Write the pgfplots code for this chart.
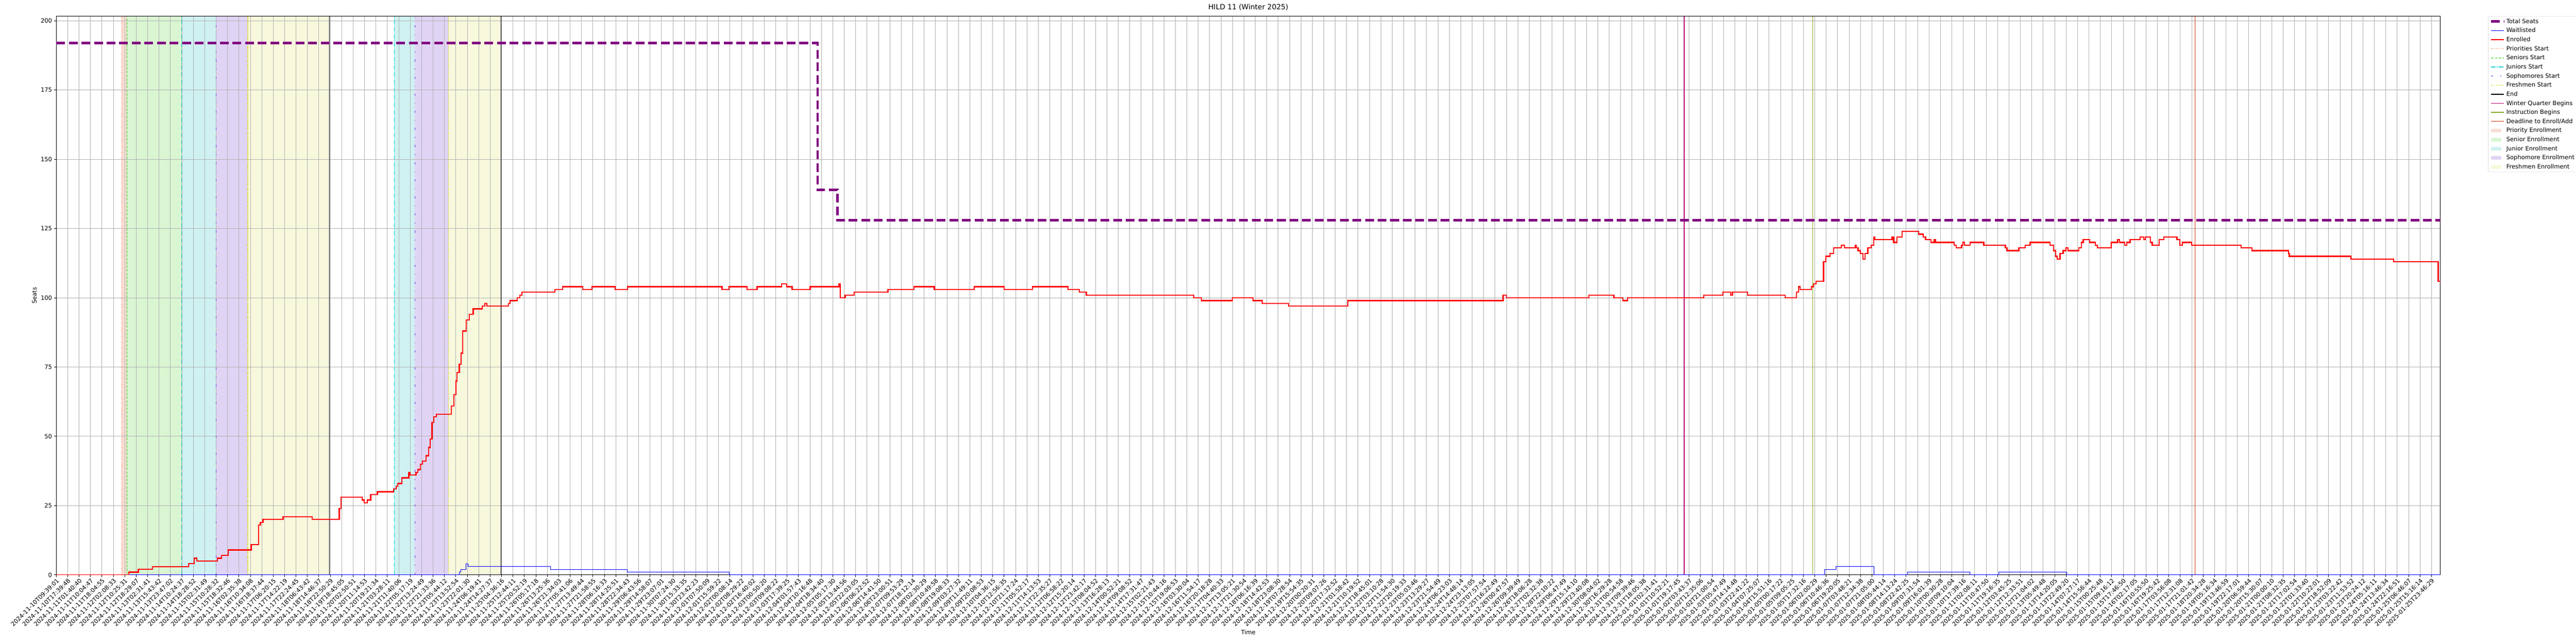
\documentclass[border=0pt]{standalone}
\usepackage{fontspec}
\setmainfont{DejaVu Sans}
\usepackage{pgfplots}
\pgfplotsset{compat=1.18}
\definecolor{gridc}{RGB}{176,176,176}
\definecolor{seatc}{RGB}{128,0,128}
\definecolor{prioc}{RGB}{238,112,60}
\definecolor{senc}{RGB}{60,200,20}
\definecolor{junc}{RGB}{0,206,209}
\definecolor{sophc}{RGB}{110,40,220}
\definecolor{freshc}{RGB}{222,222,40}
\definecolor{winc}{RGB}{185,15,120}
\definecolor{instc}{RGB}{130,170,20}
\definecolor{deadc}{RGB}{205,60,15}
\definecolor{priof}{RGB}{247,222,212}
\definecolor{senf}{RGB}{217,245,210}
\definecolor{junf}{RGB}{207,241,242}
\definecolor{sophf}{RGB}{224,212,245}
\definecolor{freshf}{RGB}{247,248,220}
\definecolor{legc}{RGB}{204,204,204}

\pgfplotstableread{
x y
0 0
6.35 1
7.19 2
8.42 3
11.6 4
12.08 6
12.3 5
14.12 6
14.46 7
15.05 9
17.07 11
17.72 18
17.88 19
18.11 20
19.87 21
22.4 20
24.7 20
24.78 24
24.93 28
26.78 27
26.97 26
27.24 27
27.54 29
28.12 30
29.54 31
29.77 32
29.92 33
30.27 35
30.88 37
30.96 36
31.5 37
31.65 38
31.9 40
32.07 41
32.38 43
32.6 46
32.76 49
32.91 55
33.07 57
33.3 58
34.6 61
34.83 65
35.0 70
35.1 73
35.29 76
35.45 80
35.6 88
35.9 92
36.17 94
36.52 96
37.29 97
37.52 98
37.71 97
39.59 98
39.74 99
40.36 100
40.59 101
40.78 102
43.65 103
44.34 104
46.11 103
46.91 104
48.95 103
50.02 104
58.3 103
58.92 104
60.49 103
61.38 104
63.52 105
63.98 104
64.44 103
66.02 104
68.55 105
68.66 100
69.09 101
69.89 102
72.84 103
75.11 104
76.9 103
80.4 104
83.0 103
85.5 104
88.6 103
89.6 102
90.2 101
99.6 100
100.3 99
103.0 100
104.8 99
105.6 98
107.9 97
113.1 99
126.7 101
127.0 100
134.2 101
136.4 100
137.2 99
137.6 100
144.28 101
145.96 102
146.61 101
146.78 102
148.12 101
151.4 100
152.39 102
152.57 104
152.7 103
153.69 104
153.9 105
154.12 106
154.77 113
154.98 115
155.33 116
155.63 118
156.32 119
156.58 118
157.53 119
157.62 118
157.79 117
158.0 116
158.22 114
158.39 116
158.65 118
158.95 119
159.17 122
159.26 121
160.77 122
160.9 120
161.2 122
161.63 124
163.1 123
163.49 122
163.7 121
164.18 120
164.47 121
164.56 120
166.2 119
166.38 118
166.85 119
166.98 120
167.1 119
167.59 120
168.8 119
170.69 118
170.82 117
171.86 118
172.42 119
172.85 120
174.58 119
174.92 117
175.09 115
175.22 114
175.48 116
175.74 117
176.0 118
176.17 117
177.12 118
177.34 120
177.51 121
178.07 120
178.55 119
178.76 118
179.97 120
180.53 121
180.7 120
181.14 119
181.31 120
181.61 121
182.48 122
182.8 121
182.93 122
183.38 120
183.55 119
184.16 121
184.55 122
185.71 121
185.97 119
186.19 120
187.0 119
191.32 118
192.27 117
195.47 116
195.55 115
200.95 114
204.7 113
208.59 106
208.78 106
}\enrolled

\pgfplotstableread{
x y
0 0
35.29 1
35.45 2
35.9 4
36.06 3
43.27 2
50.02 1
58.92 0
154.85 2
155.85 3
159.17 0
162.1 1
167.59 0
170.09 1
176.05 0
208.78 0
}\waitlisted

\pgfplotstableread{
x y
0 192
66.67 139
68.4 128
208.78 128
}\seats

\begin{document}
\begin{tikzpicture}
\begin{axis}[
  set layers,
  at={(0,0)}, anchor=south west,
  scale only axis, width=55.53in, height=13.01in,
  xmin=0, xmax=208.78, ymin=0, ymax=201.6,
  xtick={0,...,208},
  xticklabels={2024-11-10T09:39:01,2024-11-10T17:39:48,2024-11-11T01:40:40,2024-11-11T10:04:47,2024-11-11T18:04:55,2024-11-12T02:08:33,2024-11-12T10:25:31,2024-11-12T18:29:07,2024-11-13T02:31:41,2024-11-13T15:43:42,2024-11-13T23:47:02,2024-11-14T10:24:37,2024-11-14T18:28:52,2024-11-15T02:31:49,2024-11-15T10:28:32,2024-11-15T18:32:46,2024-11-16T02:35:38,2024-11-16T10:34:08,2024-11-16T18:37:44,2024-11-17T06:20:15,2024-11-17T14:22:19,2024-11-17T22:24:45,2024-11-18T06:43:42,2024-11-18T14:46:37,2024-11-18T22:50:29,2024-11-19T18:45:05,2024-11-20T02:50:51,2024-11-20T11:14:53,2024-11-20T19:21:34,2024-11-21T03:28:11,2024-11-21T11:40:06,2024-11-22T05:17:19,2024-11-22T13:24:49,2024-11-22T21:33:36,2024-11-23T05:44:12,2024-11-23T13:52:54,2024-11-23T22:01:30,2024-11-24T06:19:41,2024-11-24T14:27:37,2024-11-25T04:36:16,2024-11-25T12:44:11,2024-11-25T20:52:19,2024-11-26T05:17:18,2024-11-26T13:25:36,2024-11-26T21:34:03,2024-11-27T05:41:06,2024-11-27T13:49:44,2024-11-27T21:58:55,2024-11-28T06:16:33,2024-11-28T14:25:51,2024-11-28T22:34:43,2024-11-29T06:43:56,2024-11-29T14:58:07,2024-11-29T23:07:01,2024-11-30T07:24:30,2024-11-30T15:33:35,2024-11-30T23:42:23,2024-12-01T07:50:09,2024-12-01T15:59:22,2024-12-02T00:08:14,2024-12-02T08:29:22,2024-12-02T16:40:02,2024-12-03T00:50:20,2024-12-03T09:08:22,2024-12-03T17:39:25,2024-12-04T01:57:43,2024-12-04T10:16:48,2024-12-04T18:34:40,2024-12-05T05:17:30,2024-12-05T13:44:56,2024-12-05T22:03:05,2024-12-06T06:22:52,2024-12-06T14:41:50,2024-12-06T23:00:51,2024-12-07T09:53:29,2024-12-07T18:12:14,2024-12-08T02:30:29,2024-12-08T10:49:58,2024-12-08T19:08:33,2024-12-09T03:27:32,2024-12-09T11:49:11,2024-12-09T20:08:53,2024-12-10T04:36:15,2024-12-10T12:56:35,2024-12-10T21:17:24,2024-12-11T05:52:17,2024-12-11T14:13:53,2024-12-11T22:35:27,2024-12-12T06:58:22,2024-12-12T15:20:14,2024-12-12T23:42:17,2024-12-13T08:04:52,2024-12-13T16:28:13,2024-12-14T00:52:21,2024-12-14T09:08:52,2024-12-14T17:31:47,2024-12-15T02:21:43,2024-12-15T10:44:16,2024-12-15T19:06:53,2024-12-16T03:30:04,2024-12-16T11:54:17,2024-12-16T20:18:28,2024-12-17T04:40:33,2024-12-17T13:05:21,2024-12-17T21:30:54,2024-12-18T06:16:39,2024-12-18T14:42:53,2024-12-18T23:08:30,2024-12-19T07:28:54,2024-12-19T15:54:35,2024-12-20T00:20:31,2024-12-20T09:07:26,2024-12-20T17:32:52,2024-12-21T01:58:42,2024-12-21T10:19:52,2024-12-21T18:45:01,2024-12-22T03:10:28,2024-12-22T11:54:30,2024-12-22T20:19:33,2024-12-23T05:03:46,2024-12-23T13:29:27,2024-12-23T21:54:49,2024-12-24T06:23:03,2024-12-24T14:48:14,2024-12-24T23:13:05,2024-12-25T07:57:54,2024-12-25T16:22:49,2024-12-26T00:47:57,2024-12-26T09:39:49,2024-12-26T18:06:28,2024-12-27T02:32:38,2024-12-28T22:10:22,2024-12-29T06:47:49,2024-12-29T15:14:10,2024-12-29T23:40:08,2024-12-30T08:04:02,2024-12-30T16:29:28,2024-12-31T00:54:58,2024-12-31T09:39:46,2024-12-31T18:05:38,2025-01-01T02:31:41,2025-01-01T10:52:21,2025-01-01T19:17:45,2025-01-02T03:43:37,2025-01-02T12:35:06,2025-01-02T21:00:54,2025-01-03T05:47:49,2025-01-03T14:14:48,2025-01-03T22:41:22,2025-01-04T07:25:07,2025-01-04T15:51:16,2025-01-05T00:17:22,2025-01-05T09:05:25,2025-01-05T17:32:16,2025-01-06T02:00:29,2025-01-06T10:46:36,2025-01-06T19:20:05,2025-01-07T03:48:21,2025-01-07T12:34:38,2025-01-07T21:05:00,2025-01-08T05:44:14,2025-01-08T14:13:24,2025-01-08T22:42:25,2025-01-09T07:31:54,2025-01-09T16:01:39,2025-01-10T00:30:28,2025-01-10T09:10:04,2025-01-10T17:39:16,2025-01-11T02:08:11,2025-01-11T10:47:50,2025-01-11T19:16:35,2025-01-12T03:45:25,2025-01-12T12:33:51,2025-01-12T21:04:02,2025-01-13T05:49:48,2025-01-13T14:20:05,2025-01-13T22:49:20,2025-01-14T07:27:17,2025-01-14T15:56:44,2025-01-15T00:25:48,2025-01-15T09:16:12,2025-01-15T17:46:50,2025-01-16T02:17:05,2025-01-16T10:55:50,2025-01-16T19:25:42,2025-01-17T03:56:08,2025-01-17T12:31:08,2025-01-17T21:01:42,2025-01-18T20:34:28,2025-01-19T05:16:34,2025-01-19T13:46:59,2025-01-19T22:17:01,2025-01-20T06:59:44,2025-01-20T15:30:07,2025-01-21T00:00:10,2025-01-21T08:32:35,2025-01-21T17:02:54,2025-01-22T01:33:40,2025-01-22T10:22:01,2025-01-22T18:52:09,2025-01-23T03:22:42,2025-01-23T11:53:52,2025-01-23T20:24:12,2025-01-24T05:16:11,2025-01-24T13:46:34,2025-01-24T22:16:51,2025-01-25T06:46:07,2025-01-25T15:16:14,2025-01-25T23:46:29},
  ytick={0,25,...,200},
  grid=major,
  major grid style={gridc, line width=0.8pt},
  tick align=outside, tick pos=left,
  major tick length=3.5pt,
  every tick/.style={black, line width=0.8pt},
  axis line style={line width=0.8pt},
  /pgf/number format/assume math mode=true,
  x tick label style={rotate=45, anchor=north east, inner sep=1pt, font=\fontsize{10}{12}\selectfont},
  y tick label style={font=\fontsize{10}{12}\selectfont},
  title={HILD 11 (Winter 2025)},
  title style={font=\fontsize{12}{14}\selectfont},
  xlabel={Time}, ylabel={Seats},
  label style={font=\fontsize{10}{12}\selectfont},
  legend style={at={(1.02,1)}, anchor=north west, draw=legc, rounded corners=2pt,
    fill=white, font=\fontsize{10}{12}\selectfont, row sep=2.2pt},
  legend cell align=left,
  legend image code/.code={\draw[#1] (0pt,0pt) -- (21.6pt,0pt);},
]
% shaded periods
\addplot[on layer=axis background, draw=none, fill=priof, forget plot] coordinates {(5.74,0) (6.19,0) (6.19,201.6) (5.74,201.6)} -- cycle;
\addplot[on layer=axis background, draw=none, fill=senf, forget plot] coordinates {(6.19,0) (10.99,0) (10.99,201.6) (6.19,201.6)} -- cycle;
\addplot[on layer=axis background, draw=none, fill=junf, forget plot] coordinates {(10.99,0) (14.0,0) (14.0,201.6) (10.99,201.6)} -- cycle;
\addplot[on layer=axis background, draw=none, fill=sophf, forget plot] coordinates {(14.0,0) (16.77,0) (16.77,201.6) (14.0,201.6)} -- cycle;
\addplot[on layer=axis background, draw=none, fill=freshf, forget plot] coordinates {(16.77,0) (23.94,0) (23.94,201.6) (16.77,201.6)} -- cycle;
\addplot[on layer=axis background, draw=none, fill=junf, forget plot] coordinates {(29.61,0) (31.41,0) (31.41,201.6) (29.61,201.6)} -- cycle;
\addplot[on layer=axis background, draw=none, fill=sophf, forget plot] coordinates {(31.41,0) (34.36,0) (34.36,201.6) (31.41,201.6)} -- cycle;
\addplot[on layer=axis background, draw=none, fill=freshf, forget plot] coordinates {(34.36,0) (38.95,0) (38.95,201.6) (34.36,201.6)} -- cycle;
% event lines
\addplot[prioc, line width=1.2pt, dash pattern=on 1.2pt off 2pt, forget plot] coordinates {(5.74,0) (5.74,201.6)};
\addplot[senc, line width=1.2pt, dash pattern=on 4.4pt off 1.9pt, forget plot] coordinates {(6.19,0) (6.19,201.6)};
\addplot[junc, line width=1.2pt, dash pattern=on 7.7pt off 1.9pt on 1.2pt off 1.9pt, forget plot] coordinates {(10.99,0) (10.99,201.6)};
\addplot[sophc, line width=1.2pt, dash pattern=on 3.6pt off 12pt on 1.2pt off 12pt, forget plot] coordinates {(14.0,0) (14.0,201.6)};
\addplot[freshc, line width=1.2pt, dash pattern=on 3.6pt off 1.2pt on 1.2pt off 1.2pt, forget plot] coordinates {(16.77,0) (16.77,201.6)};
\addplot[black, line width=1.2pt, forget plot] coordinates {(23.94,0) (23.94,201.6)};
\addplot[junc, line width=1.2pt, dash pattern=on 7.7pt off 1.9pt on 1.2pt off 1.9pt, forget plot] coordinates {(29.61,0) (29.61,201.6)};
\addplot[sophc, line width=1.2pt, dash pattern=on 3.6pt off 12pt on 1.2pt off 12pt, forget plot] coordinates {(31.41,0) (31.41,201.6)};
\addplot[freshc, line width=1.2pt, dash pattern=on 3.6pt off 1.2pt on 1.2pt off 1.2pt, forget plot] coordinates {(34.36,0) (34.36,201.6)};
\addplot[black, line width=1.2pt, forget plot] coordinates {(38.95,0) (38.95,201.6)};
\addplot[winc, line width=1.2pt, forget plot] coordinates {(142.56,0) (142.56,201.6)};
\addplot[instc, line width=0.9pt, forget plot] coordinates {(153.8,0) (153.8,201.6)};
\addplot[deadc, line width=0.9pt, forget plot] coordinates {(187.3,0) (187.3,201.6)};
% data
\addplot[blue, line width=1pt, const plot, forget plot] table[x=x,y=y] {\waitlisted};
\addplot[red, line width=2pt, const plot, forget plot] table[x=x,y=y] {\enrolled};
\addplot[seatc, line width=4pt, const plot, dash pattern=on 14.8pt off 6.4pt, forget plot] table[x=x,y=y] {\seats};
% legend
\addlegendimage{seatc, line width=4pt, dash pattern=on 14.8pt off 6.4pt}
\addlegendentry{Total Seats}
\addlegendimage{blue, line width=1pt}
\addlegendentry{Waitlisted}
\addlegendimage{red, line width=2pt}
\addlegendentry{Enrolled}
\addlegendimage{prioc, line width=1.2pt, dash pattern=on 1.2pt off 2pt}
\addlegendentry{Priorities Start}
\addlegendimage{senc, line width=1.2pt, dash pattern=on 4.4pt off 1.9pt}
\addlegendentry{Seniors Start}
\addlegendimage{junc, line width=1.2pt, dash pattern=on 7.7pt off 1.9pt on 1.2pt off 1.9pt}
\addlegendentry{Juniors Start}
\addlegendimage{sophc, line width=1.2pt, dash pattern=on 3.6pt off 12pt on 1.2pt off 12pt}
\addlegendentry{Sophomores Start}
\addlegendimage{freshc, line width=1.2pt, dash pattern=on 3.6pt off 1.2pt on 1.2pt off 1.2pt}
\addlegendentry{Freshmen Start}
\addlegendimage{black, line width=1.2pt}
\addlegendentry{End}
\addlegendimage{winc, line width=1.2pt}
\addlegendentry{Winter Quarter Begins}
\addlegendimage{instc, line width=1.2pt}
\addlegendentry{Instruction Begins}
\addlegendimage{deadc, line width=1.2pt}
\addlegendentry{Deadline to Enroll/Add}
\addlegendimage{area legend, draw=priof, fill=priof}
\addlegendentry{Priority Enrollment}
\addlegendimage{area legend, draw=senf, fill=senf}
\addlegendentry{Senior Enrollment}
\addlegendimage{area legend, draw=junf, fill=junf}
\addlegendentry{Junior Enrollment}
\addlegendimage{area legend, draw=sophf, fill=sophf}
\addlegendentry{Sophomore Enrollment}
\addlegendimage{area legend, draw=freshf, fill=freshf}
\addlegendentry{Freshmen Enrollment}
\end{axis}
\pgfresetboundingbox
\useasboundingbox (-1.31in,-1.61in) rectangle (58.69in,13.39in);
\end{tikzpicture}
\end{document}
